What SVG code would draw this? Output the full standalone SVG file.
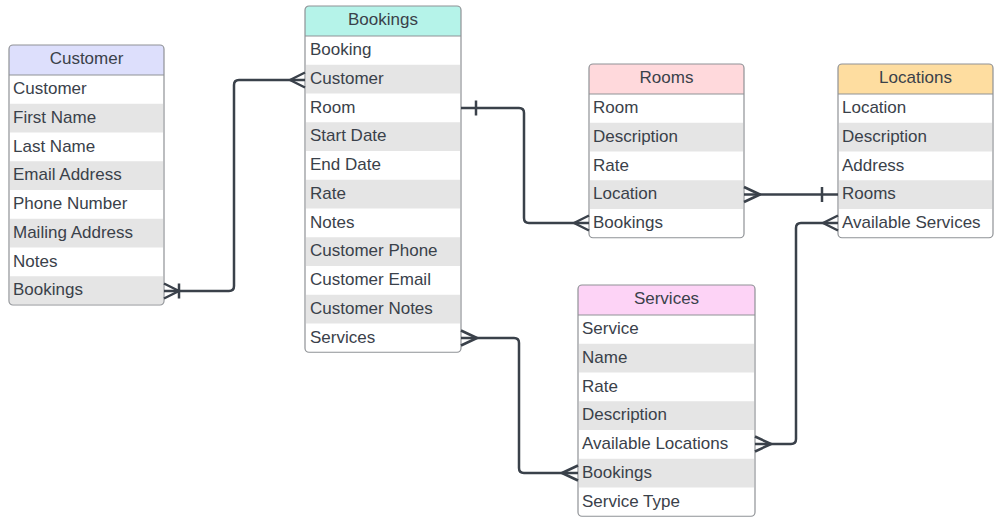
<svg xmlns="http://www.w3.org/2000/svg" width="999" height="525" viewBox="0 0 999 525">
<style>
text{font-family:"Liberation Sans",Arial,sans-serif;font-size:17px;fill:#3a414a}
.hd{text-anchor:middle}
.body{fill:#ffffff}
.alt{fill:#e5e5e5}
.frame{fill:none;stroke:#8f9296;stroke-width:1.2}
.sep{stroke:#8f9296;stroke-width:1}
.conn{fill:none;stroke:#3a414a;stroke-width:2.5;stroke-linejoin:round;stroke-linecap:butt}
</style>
<rect width="999" height="525" fill="#ffffff"/>

<g id="customer">
<rect class="body" x="9" y="45" width="155" height="260" rx="4"/>
<path d="M9,75 V49 Q9,45 13,45 H160 Q164,45 164,49 V75 Z" fill="#dddffc"/>
<rect class="alt" x="10" y="103.75" width="153" height="28.75"/>
<rect class="alt" x="10" y="161.25" width="153" height="28.75"/>
<rect class="alt" x="10" y="218.75" width="153" height="28.75"/>
<rect class="alt" x="10" y="276.25" width="153" height="28"/>
<line class="sep" x1="9" y1="75" x2="164" y2="75"/>
<rect class="frame" x="9" y="45" width="155" height="260" rx="4"/>
<text class="hd" x="86.5" y="64">Customer</text>
<text x="13" y="94">Customer</text>
<text x="13" y="122.75">First Name</text>
<text x="13" y="151.5">Last Name</text>
<text x="13" y="180.25">Email Address</text>
<text x="13" y="209">Phone Number</text>
<text x="13" y="237.75">Mailing Address</text>
<text x="13" y="266.5">Notes</text>
<text x="13" y="295.25">Bookings</text>
</g>

<g id="bookings">
<rect class="body" x="305" y="6" width="156" height="346.25" rx="4"/>
<path d="M305,36 V10 Q305,6 309,6 H457 Q461,6 461,10 V36 Z" fill="#b5f3e9"/>
<rect class="alt" x="306" y="64.75" width="154" height="28.75"/>
<rect class="alt" x="306" y="122.25" width="154" height="28.75"/>
<rect class="alt" x="306" y="179.75" width="154" height="28.75"/>
<rect class="alt" x="306" y="237.25" width="154" height="28.75"/>
<rect class="alt" x="306" y="294.75" width="154" height="28.75"/>
<line class="sep" x1="305" y1="36" x2="461" y2="36"/>
<rect class="frame" x="305" y="6" width="156" height="346.25" rx="4"/>
<text class="hd" x="383" y="25">Bookings</text>
<text x="310" y="55">Booking</text>
<text x="310" y="83.75">Customer</text>
<text x="310" y="112.5">Room</text>
<text x="310" y="141.25">Start Date</text>
<text x="310" y="170">End Date</text>
<text x="310" y="198.75">Rate</text>
<text x="310" y="227.5">Notes</text>
<text x="310" y="256.25">Customer Phone</text>
<text x="310" y="285">Customer Email</text>
<text x="310" y="313.75">Customer Notes</text>
<text x="310" y="342.5">Services</text>
</g>

<g id="rooms">
<rect class="body" x="589" y="64" width="155" height="173.75" rx="4"/>
<path d="M589,94 V68 Q589,64 593,64 H740 Q744,64 744,68 V94 Z" fill="#ffd9dc"/>
<rect class="alt" x="590" y="122.75" width="153" height="28.75"/>
<rect class="alt" x="590" y="180.25" width="153" height="28.75"/>
<line class="sep" x1="589" y1="94" x2="744" y2="94"/>
<rect class="frame" x="589" y="64" width="155" height="173.75" rx="4"/>
<text class="hd" x="666.5" y="83">Rooms</text>
<text x="593" y="113">Room</text>
<text x="593" y="141.75">Description</text>
<text x="593" y="170.5">Rate</text>
<text x="593" y="199.25">Location</text>
<text x="593" y="228">Bookings</text>
</g>

<g id="locations">
<rect class="body" x="838" y="64" width="155" height="173.75" rx="4"/>
<path d="M838,94 V68 Q838,64 842,64 H989 Q993,64 993,68 V94 Z" fill="#fedda0"/>
<rect class="alt" x="839" y="122.75" width="153" height="28.75"/>
<rect class="alt" x="839" y="180.25" width="153" height="28.75"/>
<line class="sep" x1="838" y1="94" x2="993" y2="94"/>
<rect class="frame" x="838" y="64" width="155" height="173.75" rx="4"/>
<text class="hd" x="915.5" y="83">Locations</text>
<text x="842" y="113">Location</text>
<text x="842" y="141.75">Description</text>
<text x="842" y="170.5">Address</text>
<text x="842" y="199.25">Rooms</text>
<text x="842" y="228">Available Services</text>
</g>

<g id="services">
<rect class="body" x="578" y="285" width="177" height="231.25" rx="4"/>
<path d="M578,315 V289 Q578,285 582,285 H751 Q755,285 755,289 V315 Z" fill="#fdd3f6"/>
<rect class="alt" x="579" y="343.75" width="175" height="28.75"/>
<rect class="alt" x="579" y="401.25" width="175" height="28.75"/>
<rect class="alt" x="579" y="458.75" width="175" height="28.75"/>
<line class="sep" x1="578" y1="315" x2="755" y2="315"/>
<rect class="frame" x="578" y="285" width="177" height="231.25" rx="4"/>
<text class="hd" x="666.5" y="304">Services</text>
<text x="582" y="334">Service</text>
<text x="582" y="362.75">Name</text>
<text x="582" y="391.5">Rate</text>
<text x="582" y="420.25">Description</text>
<text x="582" y="449">Available Locations</text>
<text x="582" y="477.75">Bookings</text>
<text x="582" y="506.5">Service Type</text>
</g>

<g id="connectors">
<path class="conn" d="M164,291 H229 Q234,291 234,286 V85 Q234,80 239,80 H305"/>
<path class="conn" d="M164,283.5 L179,291 L164,298.5 M179,283.5 V298.5"/>
<path class="conn" d="M305,72.5 L290,80 L305,87.5"/>

<path class="conn" d="M461,108 H519 Q524,108 524,113 V218 Q524,223 529,223 H589"/>
<path class="conn" d="M476,100.5 V115.5"/>
<path class="conn" d="M589,215.5 L574,223 L589,230.5"/>

<path class="conn" d="M744,194.5 H838"/>
<path class="conn" d="M744,187 L760,194.5 L744,202"/>
<path class="conn" d="M822,187 V202"/>

<path class="conn" d="M755,444 H791 Q796,444 796,439 V228 Q796,223 801,223 H838"/>
<path class="conn" d="M755,436.5 L771,444 L755,451.5"/>
<path class="conn" d="M838,215.5 L823,223 L838,230.5"/>

<path class="conn" d="M461,338 H514 Q519,338 519,343 V468 Q519,473 524,473 H578"/>
<path class="conn" d="M461,330.5 L477,338 L461,345.5"/>
<path class="conn" d="M578,465.5 L562,473 L578,480.5"/>
</g>
</svg>
